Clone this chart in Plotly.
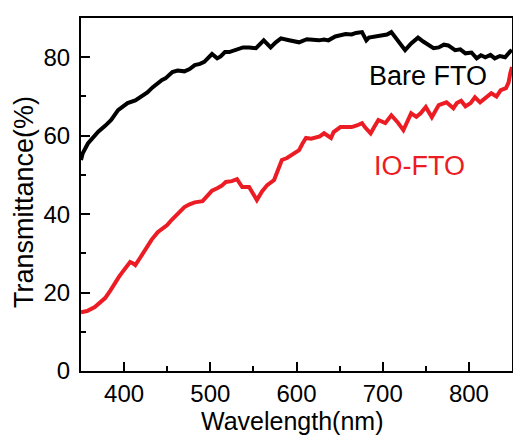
import plotly.graph_objects as go

# Bare FTO transmittance (black)
bare_wl = [350, 352, 358, 365, 370, 378, 385, 393, 398, 404, 413, 420, 427, 433, 439, 444, 448, 456, 462, 470, 476, 482, 488, 493, 502, 508, 512, 517, 522, 530, 538, 545, 553, 562, 570, 576, 582, 590, 596, 603, 612, 620, 626, 632, 637, 645, 651, 657, 664, 669, 676, 681, 684, 691, 699, 705, 710, 718, 726, 733, 741, 747, 753, 759, 765, 771, 776, 784, 790, 796, 803, 809, 814, 819, 825, 830, 836, 842, 848, 850]
bare_t = [53.8, 55.5, 58.0, 59.8, 61.0, 62.5, 64.0, 66.5, 67.2, 68.3, 69.0, 70.0, 71.0, 72.3, 73.4, 74.2, 74.6, 76.2, 76.6, 76.4, 77.0, 78.0, 78.3, 78.8, 80.8, 79.7, 80.2, 81.3, 81.3, 81.8, 82.5, 82.5, 82.3, 84.3, 82.5, 83.8, 84.8, 84.4, 84.0, 83.8, 84.6, 84.3, 84.3, 84.5, 84.3, 85.3, 85.5, 85.9, 85.8, 86.2, 86.4, 84.3, 85.0, 85.2, 85.6, 85.8, 86.4, 84.0, 81.8, 83.5, 85.0, 84.0, 83.0, 82.3, 82.5, 83.2, 83.0, 81.8, 82.0, 81.0, 81.2, 79.7, 80.5, 80.0, 80.6, 79.7, 80.3, 80.0, 81.5, 81.8]

# IO-FTO transmittance (red)
io_wl = [350, 357, 366, 372, 378, 384, 389, 394, 398, 403, 407, 410, 413, 419, 425, 432, 439, 445, 450, 455, 460, 465, 470, 476, 482, 491, 496, 502, 508, 513, 518, 525, 531, 537, 545, 550, 554, 560, 566, 574, 578, 583, 589, 594, 603, 607, 611, 617, 622, 627, 632, 640, 643, 651, 657, 664, 670, 676, 680, 686, 691, 695, 703, 710, 717, 724, 729, 733, 739, 744, 750, 757, 765, 774, 782, 786, 791, 796, 802, 807, 813, 819, 826, 832, 837, 843, 846, 848, 850]
io_t = [15.0, 15.3, 16.3, 17.3, 18.6, 20.5, 22.4, 24.0, 25.2, 26.8, 27.8, 27.5, 27.0, 29.0, 31.3, 33.5, 35.4, 36.4, 37.2, 38.5, 39.7, 40.8, 41.8, 42.5, 43.0, 43.3, 44.5, 46.0, 46.6, 47.2, 48.2, 48.4, 48.9, 46.9, 46.9, 45.0, 43.6, 45.8, 47.4, 48.7, 51.0, 53.8, 54.3, 55.0, 56.3, 58.0, 59.4, 59.2, 59.6, 59.8, 60.6, 59.4, 60.9, 62.2, 62.2, 62.2, 62.6, 63.2, 62.0, 60.6, 62.5, 64.0, 63.2, 65.2, 63.5, 61.4, 63.8, 65.7, 64.8, 65.7, 67.3, 64.7, 67.8, 68.5, 67.0, 68.3, 68.9, 67.5, 68.3, 69.8, 68.5, 69.6, 70.8, 70.0, 71.6, 72.1, 73.5, 75.9, 77.5]

x_ticks = [400, 500, 600, 700, 800]
y_ticks = [0, 20, 40, 60, 80]

RED = "#ec1c24"
FONT = "Liberation Sans, Arial, sans-serif"

# plot-area edges in page pixels
L, R, T, B = 81, 512, 18, 371
def dx(px):
    return (px - L) / (R - L)
def dy(py):
    return (B - py) / (B - T)

fig = go.Figure()
fig.add_trace(go.Scatter(x=bare_wl, y=bare_t, mode="lines",
                         line=dict(color="black", width=4), showlegend=False))
fig.add_trace(go.Scatter(x=io_wl, y=io_t, mode="lines",
                         line=dict(color=RED, width=4), showlegend=False))

fig.add_annotation(x=dx(428), y=dy(76), xref="paper", yref="paper", text="Bare FTO",
                   showarrow=False, xanchor="center", yanchor="middle",
                   font=dict(family=FONT, size=27, color="black"))
fig.add_annotation(x=dx(419), y=dy(166), xref="paper", yref="paper", text="IO-FTO",
                   showarrow=False, xanchor="center", yanchor="middle",
                   font=dict(family=FONT, size=27, color=RED))
fig.add_annotation(x=dx(292), y=dy(421), xref="paper", yref="paper", text="Wavelength(nm)",
                   showarrow=False, xanchor="center", yanchor="middle",
                   font=dict(family=FONT, size=25, color="black"))
fig.add_annotation(x=dx(24), y=dy(202), xref="paper", yref="paper", text="Transmittance(%)",
                   showarrow=False, xanchor="center", yanchor="middle", textangle=-90,
                   font=dict(family=FONT, size=27, color="black"))

axis_common = dict(
    showgrid=False, zeroline=False, automargin=False,
    showline=True, linecolor="black", linewidth=2, mirror=True,
    ticks="inside", ticklen=9, tickwidth=2, tickcolor="black",
    tickfont=dict(family=FONT, size=24, color="black"),
)

fig.update_xaxes(range=[350, 850], tickmode="array", tickvals=x_ticks,
                 ticktext=[str(v) for v in x_ticks],
                 minor=dict(ticks="inside", ticklen=5, tickwidth=2, tickcolor="black", dtick=50, tick0=350),
                 ticklabelstandoff=0,
                 **axis_common)
fig.update_yaxes(range=[0, 90], tickmode="array", tickvals=y_ticks,
                 ticktext=[str(v) for v in y_ticks],
                 minor=dict(ticks="inside", ticklen=5, tickwidth=2, tickcolor="black", dtick=10, tick0=0),
                 ticklabelstandoff=4,
                 **axis_common)

fig.update_layout(
    width=513, height=437,
    margin=dict(l=L, r=513 - R, t=T, b=437 - B),
    paper_bgcolor="white", plot_bgcolor="white",
    font=dict(family=FONT),
)

fig.write_html("out.html", config={"displayModeBar": False},
               post_script="document.body.style.margin='0';")
